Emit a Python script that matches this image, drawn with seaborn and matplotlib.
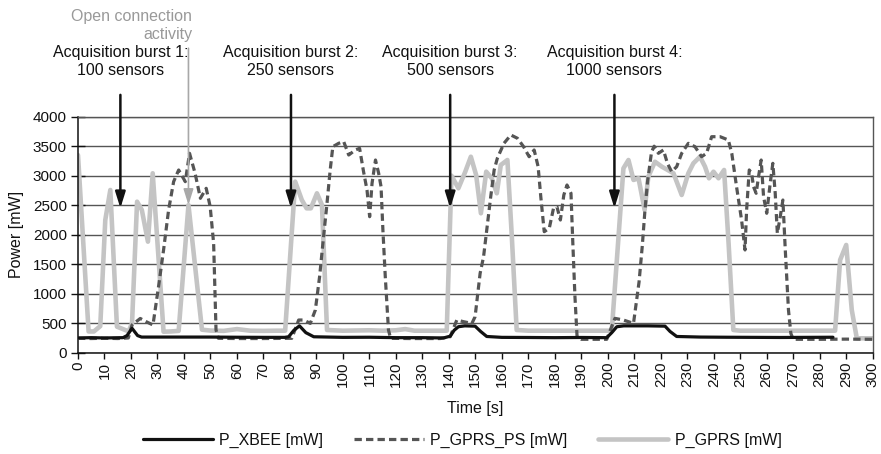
import numpy as np
import pandas as pd
import matplotlib
matplotlib.use("Agg")
import matplotlib.pyplot as plt
import seaborn as sns

# ---------------- data ----------------
xbee_t = [0, 5, 10, 17, 18.5, 20.4, 22.5, 24, 30, 40, 50, 60, 70, 78, 79.5, 81.5, 83.6, 86, 89,
          100, 110, 120, 130, 138, 140.5, 142, 143.6, 146, 149.9, 152, 154.3, 160, 170, 180, 190,
          199.6, 201.5, 203.4, 206, 210, 215, 221.6, 223.5, 226, 235, 245, 255, 265, 275, 285]
xbee_v = [250, 255, 250, 255, 290, 413, 290, 265, 265, 265, 265, 262, 260, 260, 270, 380, 455, 340, 270,
          260, 262, 255, 255, 250, 280, 380, 440, 455, 450, 360, 275, 260, 258, 255, 258,
          255, 340, 440, 455, 455, 455, 450, 360, 275, 265, 262, 260, 258, 260, 262]

ps_t = [0, 5, 10, 15, 19, 20.4, 23.5, 26, 28.3, 30.4, 32.3, 34.2, 36.1, 38, 40.5, 42.1, 44.2, 46.2,
        48.4, 49.9, 51.2, 52.1, 53, 60, 70, 80.7, 83.3, 85.1, 87.7, 89.6, 91.2, 92.7, 94, 95.2, 96.2,
        98.4, 100.3, 102.2, 104.7, 106.3, 107.8, 109.1, 110.1, 111.0, 112.3, 113.5, 114.4, 115.1, 116,
        117.2, 118, 125, 136.7, 139, 140.5, 143, 145.5, 148.7, 149.9, 151.8, 153.1, 154.3, 155.8, 157.1,
        158.3, 160.8, 163.4, 165.9, 168.2, 170.3, 172.2, 173.7, 174.7, 176, 177.9, 179.5, 180.8, 182.1,
        183.4, 184.6, 186.1, 186.8, 187.6, 188.4, 190, 199.6, 202.7, 205.9, 209.7, 210.9, 211.8, 213,
        214, 215, 216.5, 217.5, 219.1, 221, 222.5, 224.1, 226, 227.9, 230.4, 232.9, 235.4, 237.3, 239.2,
        242.4, 245.5, 246.8, 248.6, 250.5, 251.8, 252.4, 253.4, 254.3, 255, 256, 256.9, 257.9, 258.8,
        260, 261.3, 262.3, 263.2, 264, 265.1, 266.1, 267, 268.2, 269.1, 270, 280, 290, 300]
ps_v = [244, 240, 245, 240, 250, 470, 580, 520, 470, 1119, 1741, 2419, 2899, 3097, 2899, 3380, 3041, 2617,
        2786, 2475, 1854, 385, 244, 240, 240, 244, 554, 554, 497, 724, 1288, 1966, 2532, 3097, 3492,
        3549, 3578, 3351, 3436, 3464, 3068, 2758, 2305, 2871, 3266, 3041, 2814, 2080, 1288,
        385, 244, 240, 240, 260, 271, 554, 526, 497, 610, 1345, 1627, 2080, 2644, 3097,
        3295, 3549, 3690, 3634, 3492, 3322, 3436, 3153, 2644, 2051, 2108, 2447, 2475, 2249,
        2673, 2842, 2702, 1854, 949, 271, 227, 227, 582, 554, 497, 900, 1200, 1800,
        2400, 2900, 3400, 3500, 3380, 3436, 3210, 3068, 3153, 3380, 3549, 3492, 3322, 3380, 3661,
        3661, 3605, 3380, 2814, 2249, 1741, 2419, 3097, 3041, 2814, 2702, 2983, 3266, 2644,
        2363, 2871, 3210, 2702, 2024, 2305, 2588, 1741, 724, 327, 227, 227, 230, 227]

gprs_t = [0, 4, 6, 8.4, 10.3, 12.2, 14.7, 17, 19.1, 20.4, 22.3, 24.1, 26.4, 28.2, 32.3, 35, 38, 41.7,
          46.8, 50, 55, 60, 65, 70, 75, 78.2, 82.0, 84.5, 86.3, 87.9, 90.2, 92.1, 94, 100, 110, 115,
          120, 123.5, 127, 130, 139.2, 141, 143.6, 146.2, 148.3, 150.3, 152.1, 154.1, 156.2, 158.1,
          159.6, 162.1, 163.7, 165.6, 170, 180, 190, 201.5, 205.9, 207.8, 209.7, 211.6, 213.9, 215.3,
          217.8, 220.4, 224.8, 227.9, 230.4, 232.3, 234.8, 236.7, 238.2, 239.9, 241.8, 243.9, 245.6,
          247.4, 250, 260, 270, 280, 285.8, 287.7, 290, 292.1, 294, 300]
gprs_v = [3350, 360, 360, 450, 2249, 2758, 441, 400, 360, 500, 2560, 2419, 1882, 3041, 356, 360, 370, 2503,
          390, 375, 370, 400, 373, 370, 373, 373, 2899, 2588, 2447, 2447, 2702, 2503, 385, 373, 380, 373,
          380, 400, 373, 373, 373, 3000, 2787, 3068, 3322, 3012, 2363, 3068, 2956, 2702,
          3181, 3266, 2024, 385, 373, 373, 373, 373, 3125, 3266, 2928, 2956, 2420, 2983,
          3237, 3153, 3041, 2673, 3041, 3210, 3322, 3153, 2956, 3068, 2956, 3097, 1854,
          385, 373, 373, 373, 373, 373, 1571, 1826, 724, 244, 244]

series_labels = ["P_XBEE [mW]", "P_GPRS_PS [mW]", "P_GPRS [mW]"]
burst_times = [16.0, 80.4, 140.5, 202.5]
burst_labels = ["Acquisition burst 1:\n100 sensors", "Acquisition burst 2:\n250 sensors",
                "Acquisition burst 3:\n500 sensors", "Acquisition burst 4:\n1000 sensors"]
open_conn_time = 41.7
open_conn_label = "Open connection\nactivity"
x_ticks = list(range(0, 301, 10))
y_ticks = list(range(0, 4001, 500))

# ---------------- style ----------------
sns.set_style("white")
plt.rcParams["font.family"] = ["Liberation Sans", "DejaVu Sans"]
plt.rcParams["text.color"] = "#111111"
plt.rcParams["axes.labelcolor"] = "#111111"
plt.rcParams["xtick.color"] = "#111111"
plt.rcParams["ytick.color"] = "#111111"

fig = plt.figure(figsize=(8.81, 4.54), dpi=100)
ax = fig.add_axes([78 / 881, 1 - 352.7 / 454, 794.7 / 881, 236 / 454])

df_x = pd.DataFrame({"t": xbee_t, "v": xbee_v})
df_ps = pd.DataFrame({"t": ps_t, "v": ps_v})
df_g = pd.DataFrame({"t": gprs_t, "v": gprs_v})

sns.lineplot(data=df_g, x="t", y="v", ax=ax, estimator=None, sort=False,
             color="#c4c4c4", linewidth=3.3, label=series_labels[2], zorder=2)
sns.lineplot(data=df_ps, x="t", y="v", ax=ax, estimator=None, sort=False,
             color="#555555", linewidth=2.3, linestyle=(0, (2.3, 1.3)),
             label=series_labels[1], zorder=3)
sns.lineplot(data=df_x, x="t", y="v", ax=ax, estimator=None, sort=False,
             color="#111111", linewidth=2.3, label=series_labels[0], zorder=4)

ax.set_xlim(0, 300)
ax.set_ylim(0, 4000)
ax.set_xticks(x_ticks)
ax.set_yticks(y_ticks)
ax.set_xticklabels([str(v) for v in x_ticks], rotation=90)
ax.tick_params(axis="x", bottom=True, direction="out", length=4.5, width=1,
               labelsize=11, pad=2, color="#111111", labelcolor="#111111")
ax.tick_params(axis="y", left=True, direction="inout", length=10, width=1,
               labelsize=11, pad=3, color="#111111", labelcolor="#111111")

ax.yaxis.grid(True, color="#555555", linewidth=1.0)
ax.xaxis.grid(False)
ax.set_axisbelow(True)
for side in ["left", "bottom"]:
    ax.spines[side].set_color("#111111")
    ax.spines[side].set_linewidth(1.1)
for side in ["top", "right"]:
    ax.spines[side].set_color("#555555")
    ax.spines[side].set_linewidth(1.0)

ax.set_xlabel("Time [s]", fontsize=11.5, color="#111111")
ax.xaxis.set_label_coords(0.5, (352.7 - 409) / 236)
ax.xaxis.label.set_va("center")
ax.set_ylabel("Power [mW]", fontsize=11.5, color="#111111")
ax.yaxis.set_label_coords((16 - 78) / 794.7, 0.5)
ax.yaxis.label.set_va("center")

# annotations
for t, lab in zip(burst_times, burst_labels):
    ax.annotate("", xy=(t, 2450), xytext=(t, 4370),
                arrowprops=dict(arrowstyle="-|>,head_length=0.8,head_width=0.25",
                                color="#111111", lw=1.8, mutation_scale=12,
                                shrinkA=0, shrinkB=0),
                annotation_clip=False)
    ax.text(t, 4936, lab, ha="center", va="center", fontsize=11.5,
            color="#111111", clip_on=False, linespacing=1.2)

ax.annotate("", xy=(open_conn_time, 2503), xytext=(open_conn_time, 5160),
            arrowprops=dict(arrowstyle="-|>,head_length=0.8,head_width=0.25",
                            color="#a8a8a8", lw=1.2, mutation_scale=12,
                            shrinkA=0, shrinkB=0),
            annotation_clip=False)
ax.text(43.1, 5546, open_conn_label, ha="right", va="center", fontsize=11.5,
        color="#999999", clip_on=False, linespacing=1.33, multialignment="right")

# legend in fixed order
handles, labels = ax.get_legend_handles_labels()
if ax.get_legend() is not None:
    ax.get_legend().remove()
order = [labels.index(l) for l in series_labels]
fig.legend([handles[i] for i in order], [labels[i] for i in order],
           loc="center", bbox_to_anchor=(0.5245, 0.0308), ncol=3, frameon=False,
           handlelength=4.4, handletextpad=0.4, columnspacing=1.9, fontsize=11.5,
           labelcolor="#111111")

fig.savefig("out.png", dpi=100)
